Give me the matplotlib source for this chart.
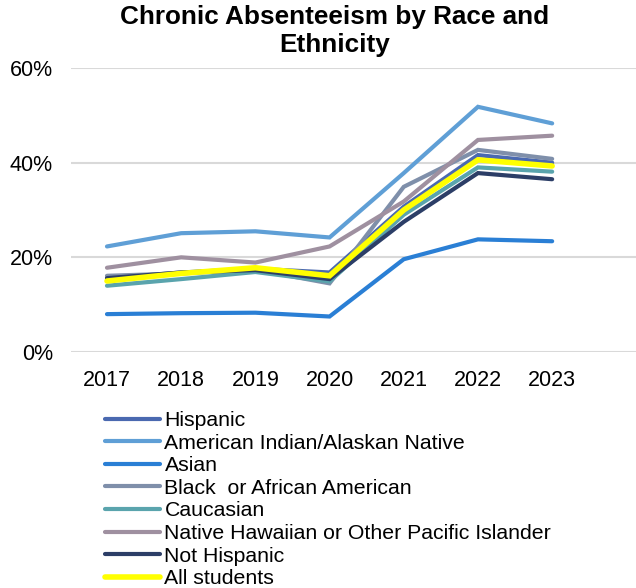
import matplotlib
matplotlib.use("Agg")
import matplotlib.pyplot as plt
from matplotlib.ticker import PercentFormatter

plt.rcParams["font.family"] = ["Liberation Sans", "DejaVu Sans"]

# -------------------- data --------------------
years = ["2017", "2018", "2019", "2020", "2021", "2022", "2023"]

hispanic = [15.5, 16.8, 17.6, 16.8, 30.7, 41.6, 40.0]
am_indian = [22.3, 25.1, 25.5, 24.2, 37.8, 51.8, 48.3]
asian = [8.0, 8.2, 8.3, 7.5, 19.6, 23.8, 23.4]
black = [16.1, 16.6, 17.4, 14.5, 34.9, 42.7, 40.8]
caucasian = [14.0, 15.4, 16.9, 14.9, 29.0, 39.0, 38.1]
nh_pi = [17.8, 20.0, 18.9, 22.3, 31.8, 44.8, 45.7]
not_hispanic = [15.6, 16.8, 17.3, 15.4, 27.5, 37.8, 36.5]
all_students = [15.0, 16.6, 17.8, 16.1, 30.0, 40.6, 39.3]

labels = ["Hispanic", "American Indian/Alaskan Native", "Asian",
          "Black  or African American", "Caucasian",
          "Native Hawaiian or Other Pacific Islander", "Not Hispanic",
          "All students"]
series = [hispanic, am_indian, asian, black, caucasian, nh_pi,
          not_hispanic, all_students]
colors = ["#4a69b0", "#5f9fd6", "#2a7fd5", "#7f8faa", "#5aa4ad",
          "#9f90a0", "#2c3e67", "#ffff00"]
widths = [3.0, 3.0, 3.0, 3.0, 3.0, 3.0, 3.0, 4.0]

# -------------------- figure --------------------
W, H = 636, 588
fig = plt.figure(figsize=(W / 100, H / 100), dpi=100)
ax = fig.add_axes([71 / W, (H - 352) / H, 1 - 71 / W, (352 - 68) / H])

x = list(range(len(years)))
for vals, lab, col, lw in zip(series, labels, colors, widths):
    ax.plot(x, [v / 100 for v in vals], color=col, lw=lw, label=lab,
            solid_capstyle="round", solid_joinstyle="miter")

ax.set_xlim(-0.485, 7.13)
ax.set_ylim(0, 0.6)
ax.set_yticks([0, 0.2, 0.4, 0.6])
ax.yaxis.set_major_formatter(PercentFormatter(1.0, decimals=0))
ax.set_xticks(x)
ax.set_xticklabels(years)
ax.tick_params(axis="y", length=0, pad=13, labelsize=15.5)
ax.tick_params(axis="x", length=0, pad=13, labelsize=15.5)
ax.grid(axis="y", color="#d9d9d9", lw=1.5)
ax.set_axisbelow(True)
for s in ax.spines.values():
    s.set_visible(False)

fig.text(0.526, 1 - 5 / H, "Chronic Absenteeism by Race and\nEthnicity",
         ha="center", va="top", fontsize=18.8, fontweight="bold",
         linespacing=1.22)

fig.legend(loc="upper left", bbox_to_anchor=(105 / W, (H - 411) / H),
           frameon=False, fontsize=15.3, labelspacing=0.17,
           handlelength=2.6, handletextpad=0.2, borderpad=0,
           borderaxespad=0)

fig.savefig("out.png", dpi=100)
